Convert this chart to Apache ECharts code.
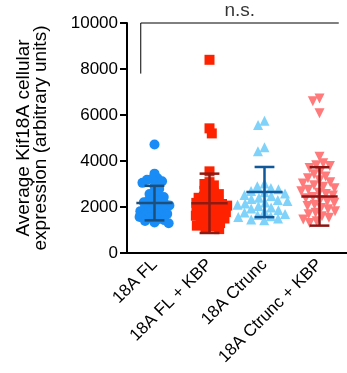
<!DOCTYPE html>
<html>
<head>
<meta charset="utf-8">
<script src="https://cdn.jsdelivr.net/npm/echarts@6/dist/echarts.min.js"></script>
<style>
  html, body { margin: 0; padding: 0; background: #fff; }
  #chart { width: 347px; height: 373px; }
</style>
</head>
<body>
<div id="chart"></div>
<script>
// groups and values
const categories = ['18A FL', '18A FL + KBP', '18A Ctrunc', '18A Ctrunc + KBP'];

const flValues = [4720, 3450, 3250, 3230, 3180, 3120, 3050, 2900, 2780, 2650, 2560, 2490, 2430, 2360, 2300, 2250,
  2210, 2160, 2120, 2070, 2030, 1990, 1950, 1910, 1860, 1820, 1790, 1740, 1700, 1650, 1610, 1570, 1530, 1480,
  1430, 1390, 1330, 1290];
const flKbpValues = [8400, 5420, 5200, 3550, 3080, 3000, 2940, 2780, 2700, 2630, 2560, 2510, 2450, 2400, 2340,
  2300, 2260, 2210, 2180, 2130, 2100, 2060, 2010, 1980, 1940, 1900, 1850, 1820, 1780, 1730, 1700, 1660, 1620,
  1570, 1540, 1500, 1450, 1400, 1360, 1300, 1250, 1190, 1150, 1090, 1040];
const ctruncValues = [5750, 5560, 4600, 4420, 3020, 2900, 2830, 2770, 2700, 2640, 2590, 2520, 2480, 2400, 2350,
  2300, 2260, 2200, 2150, 2100, 2040, 1980, 1930, 1870, 1800, 1760, 1700, 1650, 1600, 1560, 1500, 1460, 1420];
const ctruncKbpValues = [6720, 6600, 6080, 4180, 3900, 3820, 3780, 3700, 3560, 3420, 3330, 3250, 3160, 3080,
  3020, 2950, 2880, 2820, 2750, 2680, 2620, 2560, 2500, 2440, 2380, 2300, 2240, 2180, 2100, 2040, 1960, 1900,
  1820, 1750, 1680, 1600, 1530, 1460, 1380, 1300];

const means = [2170, 2160, 2650, 2460];
const sds = [750, 1290, 1090, 1270];

const yMin = 0, yMax = 10000, yInterval = 2000;
const bracketFrom = -0.25, bracketTo = 3.35, bracketLow = 7800;

// styling
const font = "'Liberation Sans', Arial, sans-serif";
const dotColors = ['#1a8cf5', '#ff2200', '#7fd3fa', '#ff7a7a'];
const barColors = ['#1d4f7c', '#8e1a12', '#10589a', '#8e1414'];
const shapes = ['circle', 'rect', 'triangle', 'triangle'];
const sizes = [10, 10, 10, 10];
const rotations = [0, 0, 0, 180];
const spacing = [5.6, 5.6, 8, 7.5]; // how tightly each swarm packs

const grid = {left: 127, right: -10, top: 23, bottom: 120};
const plotW = 347 - grid.left - grid.right;
const plotH = 373 - grid.top - grid.bottom;
const pxPerX = plotW / categories.length;
const pxPerY = plotH / (yMax - yMin);

// simple beeswarm: place each point as near the centre as it can go without overlap
function swarm(values, d) {
  const order = values.map((v, i) => i).sort((a, b) => values[b] - values[a]);
  const placed = [];
  const xs = [];
  order.forEach((i, k) => {
    const y = values[i] * pxPerY;
    const near = placed.filter(p => Math.abs(p.y - y) < d);
    const cands = [0];
    near.forEach(p => {
      const w = Math.sqrt(d * d - (p.y - y) * (p.y - y));
      cands.push(p.x - w, p.x + w);
    });
    const ok = cands.filter(c => near.every(p => (p.x - c) ** 2 + (p.y - y) ** 2 >= d * d - 1e-6));
    ok.sort((a, b) => Math.abs(a) - Math.abs(b) || (k % 2 ? a - b : b - a));
    placed.push({x: ok[0], y: y});
    xs[i] = ok[0];
  });
  return xs;
}

const groups = [flValues, flKbpValues, ctruncValues, ctruncKbpValues];

const dotSeries = groups.map((vals, g) => {
  const offs = swarm(vals, spacing[g]);
  return {
    name: categories[g],
    type: 'scatter',
    xAxisIndex: 1,
    symbol: shapes[g],
    symbolSize: sizes[g],
    symbolRotate: rotations[g],
    itemStyle: {color: dotColors[g], opacity: 1},
    data: vals.map((v, i) => [g + offs[i] / pxPerX, v]),
    z: 2,
    silent: true
  };
});

const errorSeries = {
  type: 'custom',
  xAxisIndex: 1,
  z: 5,
  data: means.map((m, i) => [i, m, sds[i]]),
  renderItem: (params, api) => {
    const x = api.value(0), m = api.value(1), s = api.value(2);
    const c = api.coord([x, m]);
    const top = api.coord([x, m + s]);
    const bot = api.coord([x, m - s]);
    const hw = api.size([0.33, 0])[0];
    const cw = api.size([0.18, 0])[0];
    const style = {stroke: barColors[params.dataIndex], lineWidth: 2.5};
    return {
      type: 'group',
      children: [
        {type: 'line', shape: {x1: c[0] - hw, y1: c[1], x2: c[0] + hw, y2: c[1]}, style: style},
        {type: 'line', shape: {x1: c[0], y1: top[1], x2: c[0], y2: bot[1]}, style: style},
        {type: 'line', shape: {x1: c[0] - cw, y1: top[1], x2: c[0] + cw, y2: top[1]}, style: style},
        {type: 'line', shape: {x1: c[0] - cw, y1: bot[1], x2: c[0] + cw, y2: bot[1]}, style: style}
      ]
    };
  }
};

const bracketSeries = {
  type: 'line',
  xAxisIndex: 1,
  symbol: 'none',
  clip: false,
  silent: true,
  lineStyle: {color: '#000', width: 1},
  data: [[bracketFrom, bracketLow], [bracketFrom, yMax], [bracketTo, yMax]],
  z: 3
};

const labelSeries = {
  type: 'scatter',
  xAxisIndex: 1,
  symbolSize: 0,
  silent: true,
  itemStyle: {color: 'rgba(0,0,0,0)'},
  label: {
    show: true, position: 'top', distance: 3, formatter: 'n.s.',
    color: '#000', fontSize: 19, fontFamily: font
  },
  data: [[(bracketFrom + bracketTo) / 2, yMax]],
  z: 3
};

const myChart = echarts.init(document.getElementById('chart'), null, {renderer: 'canvas'});
myChart.setOption({
  animation: false,
  grid: grid,
  xAxis: [
    {
      type: 'category',
      data: categories,
      axisLine: {lineStyle: {color: '#000', width: 2}},
      axisTick: {alignWithLabel: true, length: 7, lineStyle: {color: '#000', width: 2}},
      axisLabel: {rotate: 45, margin: 9, color: '#000', fontSize: 17, fontFamily: font, interval: 0},
      splitLine: {show: false}
    },
    {
      type: 'value',
      min: -0.5,
      max: categories.length - 0.5,
      show: false
    }
  ],
  yAxis: {
    type: 'value',
    min: yMin,
    max: yMax,
    interval: yInterval,
    name: 'Average Kif18A cellular\nexpression (arbitrary units)',
    nameLocation: 'middle',
    nameRotate: 90,
    nameGap: 78,
    nameTextStyle: {color: '#000', fontSize: 19, lineHeight: 17, fontFamily: font},
    axisLine: {show: true, onZero: false, lineStyle: {color: '#000', width: 2}},
    axisTick: {show: true, length: 7, lineStyle: {color: '#000', width: 2}},
    axisLabel: {margin: 9, color: '#000', fontSize: 17, fontFamily: font, formatter: v => String(v)},
    splitLine: {show: false}
  },
  series: dotSeries.concat([errorSeries, bracketSeries, labelSeries])
});
</script>
</body>
</html>
